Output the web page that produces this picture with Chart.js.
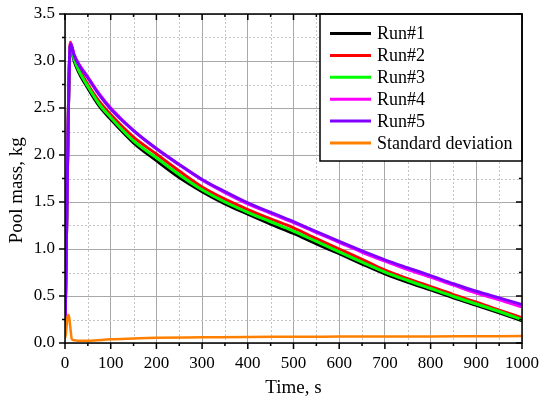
<!DOCTYPE html>
<html>
<head>
<meta charset="utf-8">
<script src="https://cdn.jsdelivr.net/npm/chart.js"></script>
<style>
  html, body { margin: 0; padding: 0; background: #fff; }
</style>
</head>
<body>
<canvas id="myChart" width="543" height="401"></canvas>
<script>
// time axis shared by the five runs, s
const time = [0, 12, 20, 30, 50, 75, 100, 150, 200, 250, 300, 350, 400, 450, 500, 550, 600, 650, 700, 750, 800, 850, 900, 950, 1000];
// pool mass, kg
const run1 = [0.14, 3.17, 3.00, 2.88, 2.71, 2.52, 2.38, 2.13, 1.94, 1.76, 1.61, 1.48, 1.37, 1.265, 1.165, 1.055, 0.95, 0.84, 0.735, 0.645, 0.565, 0.48, 0.40, 0.32, 0.237];
const run2 = [0.14, 3.20, 3.03, 2.92, 2.75, 2.57, 2.43, 2.19, 2.01, 1.83, 1.66, 1.53, 1.42, 1.32, 1.225, 1.11, 1.00, 0.89, 0.775, 0.685, 0.60, 0.515, 0.435, 0.35, 0.268];
const run3 = [0.14, 3.18, 3.02, 2.90, 2.73, 2.54, 2.40, 2.15, 1.97, 1.79, 1.63, 1.50, 1.39, 1.29, 1.19, 1.08, 0.97, 0.86, 0.755, 0.665, 0.58, 0.495, 0.415, 0.335, 0.25];
const run4 = [0.14, 3.19, 3.07, 2.97, 2.83, 2.65, 2.50, 2.26, 2.065, 1.895, 1.735, 1.60, 1.48, 1.38, 1.28, 1.175, 1.07, 0.965, 0.87, 0.78, 0.70, 0.615, 0.53, 0.46, 0.385];
const run5 = [0.14, 3.18, 3.06, 2.96, 2.82, 2.64, 2.49, 2.26, 2.07, 1.90, 1.74, 1.61, 1.49, 1.39, 1.29, 1.185, 1.08, 0.98, 0.885, 0.80, 0.717, 0.63, 0.55, 0.48, 0.41];
// standard deviation has its own (denser at the start) time axis
const sdTime = [0, 2, 5, 7, 9, 12, 15, 20, 30, 50, 100, 150, 200, 300, 400, 500, 600, 700, 800, 900, 1000];
const sdValues = [0.05, 0.10, 0.26, 0.30, 0.28, 0.15, 0.04, 0.03, 0.025, 0.025, 0.04, 0.048, 0.055, 0.06, 0.065, 0.066, 0.068, 0.07, 0.07, 0.072, 0.074];

const labels = ['Run#1', 'Run#2', 'Run#3', 'Run#4', 'Run#5', 'Standard deviation'];
const colors = ['#000000', '#ff0000', '#00ff00', '#ff00ff', '#8000ff', '#ff8000'];

const FONT = 'Liberation Serif, Times New Roman, serif';
const pts = (xs, ys) => xs.map((x, i) => ({x: x, y: ys[i]}));

const series = [run1, run2, run3, run4, run5];
const datasets = series.map((s, i) => ({
  label: labels[i],
  data: pts(time, s),
  borderColor: colors[i],
  borderWidth: 3,
  order: 5 - i
}));
datasets.push({
  label: labels[5],
  data: pts(sdTime, sdValues),
  borderColor: colors[5],
  borderWidth: 2.5,
  order: 0
});

// minor grid, frame, ticks on all sides and the boxed legend
const decor = {
  id: 'decor',
  beforeDatasetsDraw(chart) {
    const {ctx, chartArea: a, scales: {x, y}} = chart;
    ctx.save();
    ctx.strokeStyle = '#c4c4c4';
    ctx.lineWidth = 1;
    ctx.setLineDash([2, 2]);
    ctx.beginPath();
    for (let t = 50; t < 1000; t += 100) {
      const px = Math.round(x.getPixelForValue(t)) + 0.5;
      ctx.moveTo(px, a.top); ctx.lineTo(px, a.bottom);
    }
    for (let v = 0.25; v < 3.5; v += 0.5) {
      const py = Math.round(y.getPixelForValue(v)) + 0.5;
      ctx.moveTo(a.left, py); ctx.lineTo(a.right, py);
    }
    ctx.stroke();
    ctx.restore();
  },
  afterDatasetsDraw(chart) {
    const {ctx, chartArea: a, scales: {x, y}} = chart;
    ctx.save();
    ctx.strokeStyle = '#000';
    ctx.lineWidth = 1.5;
    ctx.beginPath();
    for (let t = 0; t <= 1000; t += 50) {
      const px = x.getPixelForValue(t);
      const len = t % 100 == 0 ? 6 : 3;
      ctx.moveTo(px, a.bottom); ctx.lineTo(px, a.bottom + len);
      ctx.moveTo(px, a.top); ctx.lineTo(px, a.top + len);
    }
    for (let k = 0; k <= 14; k++) {
      const py = y.getPixelForValue(k * 0.25);
      const len = k % 2 == 0 ? 6 : 3;
      ctx.moveTo(a.left, py); ctx.lineTo(a.left - len, py);
      ctx.moveTo(a.right, py); ctx.lineTo(a.right - len, py);
    }
    ctx.stroke();

    // legend
    const w = 202, h = 147;
    const x0 = a.right - w, y0 = a.top;
    ctx.fillStyle = '#fff';
    ctx.fillRect(x0, y0, w, h);
    ctx.strokeRect(x0, y0, w, h);
    ctx.font = '18px ' + FONT;
    ctx.textBaseline = 'middle';
    chart.data.datasets.forEach((ds, i) => {
      const ly = y0 + 19.5 + i * 21.9;
      ctx.strokeStyle = ds.borderColor;
      ctx.lineWidth = 3;
      ctx.beginPath();
      ctx.moveTo(x0 + 10, ly); ctx.lineTo(x0 + 51, ly);
      ctx.stroke();
      ctx.fillStyle = '#000';
      ctx.fillText(ds.label, x0 + 57, ly + 1);
    });

    ctx.strokeStyle = '#000';
    ctx.lineWidth = 1.5;
    ctx.strokeRect(a.left, a.top, a.right - a.left, a.bottom - a.top);
    ctx.restore();
  }
};

const config = {
  type: 'line',
  data: { datasets: datasets },
  options: {
    responsive: false,
    animation: false,
    layout: { padding: { top: 14, right: 21, left: 0, bottom: 0 } },
    elements: { point: { radius: 0 }, line: { cubicInterpolationMode: 'monotone' } },
    plugins: { legend: { display: false }, tooltip: { enabled: false } },
    scales: {
      x: {
        type: 'linear', min: 0, max: 1000,
        ticks: { stepSize: 100, autoSkip: false, maxRotation: 0, color: '#000', padding: 10, font: { family: FONT, size: 17 }, callback: v => String(v) },
        grid: { color: '#a8a8a8', drawTicks: false },
        border: { display: false },
        title: { display: true, text: 'Time, s', color: '#000', font: { family: FONT, size: 19 }, padding: { top: 0, bottom: 2 } },
        afterFit: s => { s.height = 58; s.paddingLeft = 0; s.paddingRight = 0; }
      },
      y: {
        min: 0, max: 3.5,
        ticks: { stepSize: 0.5, color: '#000', padding: 10, font: { family: FONT, size: 17 }, callback: v => v.toFixed(1) },
        grid: { color: '#a8a8a8', drawTicks: false },
        border: { display: false },
        title: { display: true, text: 'Pool mass, kg\u00a0\u00a0\u00a0\u00a0\u00a0', color: '#000', font: { family: FONT, size: 19 }, padding: { top: 6, bottom: 0 } },
        afterFit: s => { s.width = 65; s.paddingTop = 0; s.paddingBottom = 0; }
      }
    }
  },
  plugins: [decor]
};

const myChart = new Chart(document.getElementById('myChart'), config);
</script>
</body>
</html>
